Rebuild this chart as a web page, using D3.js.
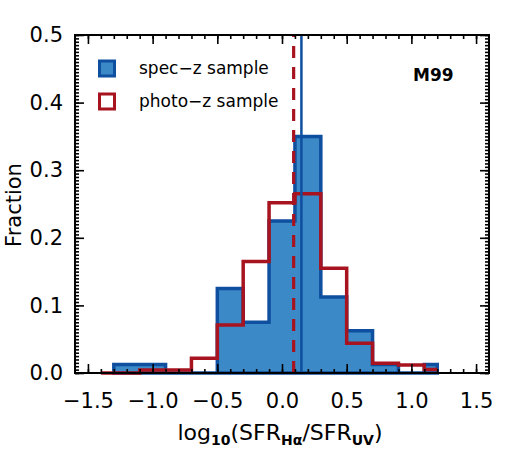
<!DOCTYPE html>
<html>
<head>
<meta charset="utf-8">
<script src="https://cdn.jsdelivr.net/npm/d3@7"></script>
<style>
  html, body { margin: 0; padding: 0; background: #fff; }
  svg { display: block; }
  text { font-family: "DejaVu Sans", sans-serif; fill: #000; }
</style>
</head>
<body>
<svg id="chart" width="509" height="460"></svg>
<script>
// ---- data ----
const binEdges = [-1.4, -1.3, -1.1, -0.9, -0.7, -0.5, -0.3, -0.1, 0.1, 0.3, 0.5, 0.7, 0.9, 1.1, 1.2];
const specZ  = [0, 0.0125, 0.0125, 0, 0, 0.125, 0.075, 0.225, 0.35, 0.1125, 0.0625, 0.0125, 0, 0.0125];
const photoZ = [0, 0, 0.0045, 0.0045, 0.022, 0.071, 0.165, 0.252, 0.265, 0.155, 0.044, 0.0145, 0.012, 0.005];
const medianSpec = 0.15;
const medianPhoto = 0.09;
const xMajorTicks = [-1.5, -1.0, -0.5, 0.0, 0.5, 1.0, 1.5];
const yMajorTicks = [0.0, 0.1, 0.2, 0.3, 0.4, 0.5];
const legendLabels = ["spec\u2212z sample", "photo\u2212z sample"];
const panelLabel = "M99";

// ---- layout ----
const svg = d3.select("#chart");
const L = 75, R = 489, T = 35, B = 373;
const x = d3.scaleLinear().domain([-1.6, 1.6]).range([L, R]);
const y = d3.scaleLinear().domain([0, 0.5]).range([B, T]);

const blueFill = "#3b89c6", blueLine = "#0f4f9f", redLine = "#a7131f";

function stepPoints(vals) {
  const pts = [];
  vals.forEach((v, i) => {
    pts.push([binEdges[i], v]);
    pts.push([binEdges[i + 1], v]);
  });
  return pts;
}
const line = d3.line().x(d => x(d[0])).y(d => y(d[1]));

// blue filled histogram (leading zeros trimmed)
const s0 = specZ.findIndex(v => v > 0);
const bluePts = [[binEdges[s0], 0]];
for (let i = s0; i < specZ.length; i++) {
  bluePts.push([binEdges[i], specZ[i]]);
  bluePts.push([binEdges[i + 1], specZ[i]]);
}
bluePts.push([binEdges[binEdges.length - 1], 0]);
svg.append("path").attr("d", line(bluePts) + "Z")
  .attr("fill", blueFill).attr("stroke", "none");
svg.append("path").attr("d", line(bluePts) + "Z")
  .attr("fill", "none").attr("stroke", blueLine).attr("stroke-width", 3.5)
  .attr("stroke-linejoin", "miter");

// red step histogram
svg.append("path").attr("d", line(stepPoints(photoZ)))
  .attr("fill", "none").attr("stroke", redLine).attr("stroke-width", 3.5)
  .attr("stroke-linejoin", "miter");

// median lines
svg.append("line").attr("x1", x(medianPhoto)).attr("x2", x(medianPhoto))
  .attr("y1", y(0)).attr("y2", y(0.5))
  .attr("stroke", redLine).attr("stroke-width", 3.2).attr("stroke-dasharray", "12,9");
svg.append("line").attr("x1", x(medianSpec)).attr("x2", x(medianSpec))
  .attr("y1", y(0)).attr("y2", y(0.5))
  .attr("stroke", blueLine).attr("stroke-width", 2.5);

// ---- axes ----
const xMinor = d3.range(-1.5, 1.55, 0.1).map(v => +v.toFixed(2));
const yMinor = d3.range(0, 0.5001, 0.005).map(v => +v.toFixed(4));
const fmt = d3.format(".1f");

function styleAxis(g) {
  g.select(".domain").remove();
  g.selectAll(".tick line").attr("stroke", "#000").attr("stroke-width", 1.6);
  g.selectAll("text").style("font-family", '"DejaVu Sans", sans-serif');
}

// bottom
svg.append("g").attr("transform", `translate(0,${B})`)
  .call(d3.axisBottom(x).tickValues(xMinor).tickSize(-4).tickFormat(""))
  .call(styleAxis);
svg.append("g").attr("transform", `translate(0,${B})`)
  .call(d3.axisBottom(x).tickValues(xMajorTicks).tickSize(-9).tickPadding(20).tickFormat(fmt))
  .call(styleAxis)
  .selectAll("text").style("font-size", "21px");
// top
svg.append("g").attr("transform", `translate(0,${T})`)
  .call(d3.axisTop(x).tickValues(xMinor).tickSize(-4).tickFormat(""))
  .call(styleAxis);
svg.append("g").attr("transform", `translate(0,${T})`)
  .call(d3.axisTop(x).tickValues(xMajorTicks).tickSize(-9).tickFormat(""))
  .call(styleAxis);
// left
svg.append("g").attr("transform", `translate(${L},0)`)
  .call(d3.axisLeft(y).tickValues(yMinor).tickSize(-4).tickFormat(""))
  .call(styleAxis);
svg.append("g").attr("transform", `translate(${L},0)`)
  .call(d3.axisLeft(y).tickValues(yMajorTicks).tickSize(-9).tickPadding(12).tickFormat(fmt))
  .call(styleAxis)
  .selectAll("text").style("font-size", "21px");
// right
svg.append("g").attr("transform", `translate(${R},0)`)
  .call(d3.axisRight(y).tickValues(yMinor).tickSize(-4).tickFormat(""))
  .call(styleAxis);
svg.append("g").attr("transform", `translate(${R},0)`)
  .call(d3.axisRight(y).tickValues(yMajorTicks).tickSize(-9).tickFormat(""))
  .call(styleAxis);

// frame
svg.append("rect").attr("x", L).attr("y", T).attr("width", R - L).attr("height", B - T)
  .attr("fill", "none").attr("stroke", "#000").attr("stroke-width", 2);

// ---- axis titles ----
const xt = svg.append("text").attr("x", 280).attr("y", 440)
  .attr("text-anchor", "middle").style("font-size", "22px");
xt.append("tspan").text("log");
xt.append("tspan").attr("dy", 5).style("font-size", "14px").style("font-weight", "bold").text("10");
xt.append("tspan").attr("dy", -5).text("(SFR");
xt.append("tspan").attr("dy", 5).style("font-size", "14px").style("font-weight", "bold").text("H\u03b1");
xt.append("tspan").attr("dy", -5).text("/SFR");
xt.append("tspan").attr("dy", 5).style("font-size", "14px").style("font-weight", "bold").text("UV");
xt.append("tspan").attr("dy", -5).text(")");

svg.append("text").attr("transform", "translate(21,205) rotate(-90)")
  .attr("text-anchor", "middle").style("font-size", "21px").text("Fraction");

// ---- legend ----
const legY = [68.5, 101.5];
[0, 1].forEach(i => {
  svg.append("rect").attr("x", 99.5).attr("y", legY[i] - 7.5).attr("width", 15).attr("height", 15)
    .attr("fill", i === 0 ? blueFill : "#fff")
    .attr("stroke", i === 0 ? blueLine : redLine).attr("stroke-width", 3);
  svg.append("text").attr("x", 139).attr("y", legY[i] + 5.5)
    .style("font-size", "17px").text(legendLabels[i]);
});

svg.append("text").attr("x", 413).attr("y", 81).style("font-size", "17px")
  .style("font-weight", "bold").text(panelLabel);
</script>
</body>
</html>
